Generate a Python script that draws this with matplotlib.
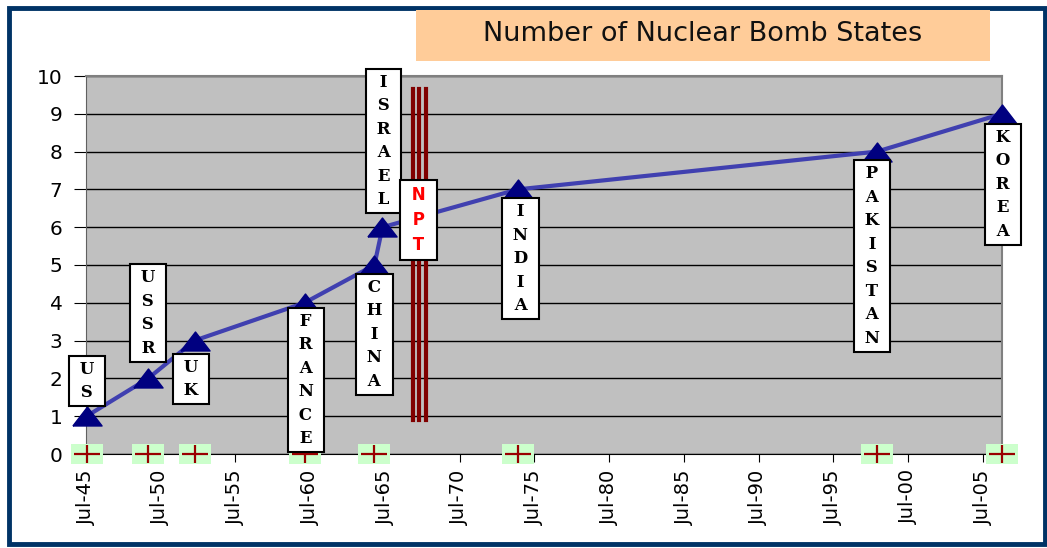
import matplotlib
matplotlib.use("Agg")
import matplotlib.pyplot as plt
import matplotlib.dates as mdates
from matplotlib.path import Path
from matplotlib.patches import Rectangle
from datetime import date

# data
states = ["US", "USSR", "UK", "FRANCE", "CHINA", "ISRAEL", "INDIA", "PAKISTAN", "KOREA"]
test_dates = [date(1945, 7, 16), date(1949, 8, 29), date(1952, 10, 3), date(1960, 2, 13),
              date(1964, 10, 16), date(1965, 5, 1), date(1974, 5, 18), date(1998, 5, 28),
              date(2006, 10, 9)]
count = [1, 2, 3, 4, 5, 6, 7, 8, 9]

# states that get a marker on the time axis (Israel has none)
axis_marks = [d for s, d in zip(states, test_dates) if s != "ISRAEL"]
npt_lines = [date(1967, 5, 15), date(1967, 10, 1), date(1968, 3, 20)]

# label boxes: (x date, y centre)
label_pos = {
    "US": (date(1945, 7, 16), 1.93),
    "USSR": (date(1949, 8, 29), 3.73),
    "UK": (date(1952, 7, 1), 1.98),
    "FRANCE": (date(1960, 3, 15), 1.96),
    "CHINA": (date(1964, 10, 16), 3.17),
    "ISRAEL": (date(1965, 6, 1), 8.28),
    "INDIA": (date(1974, 8, 1), 5.16),
    "PAKISTAN": (date(1998, 2, 1), 5.24),
    "KOREA": (date(2006, 11, 1), 7.14),
}
npt_pos = (date(1967, 10, 1), 6.19)

W, H = 1047, 548
fig = plt.figure(figsize=(W / 100, H / 100), dpi=100)
ax = fig.add_axes([86 / W, 1 - 454 / H, 916 / W, 378 / H])
ax.set_facecolor("#C0C0C0")

# frame around the whole picture
fig.patches.append(Rectangle((9 / W, 4 / H), 1036 / W, 536 / H,
                             transform=fig.transFigure, fill=False,
                             edgecolor="#003366", linewidth=3.5))
# title box
fig.patches.append(Rectangle((416 / W, 1 - 61 / H), 574 / W, 51 / H,
                             transform=fig.transFigure, facecolor="#FFCC99",
                             edgecolor="none"))
fig.text(703 / W, 1 - 34 / H, "Number of Nuclear Bomb States", ha="center", va="center",
         fontsize=19.5, color="#111111")

ax.set_ylim(0, 10)
ax.set_yticks(range(0, 11))
ax.set_xlim(date(1945, 7, 1), date(2006, 10, 9))
ax.grid(axis="y", color="black", linewidth=1)
ax.set_axisbelow(True)

ax.set_xticks([date(y, 7, 1) for y in range(1945, 2010, 5)])
ax.xaxis.set_major_formatter(mdates.DateFormatter("%b-%y"))
ax.tick_params(axis="x", rotation=90, labelsize=14, length=6, pad=5)
ax.tick_params(axis="y", labelsize=14.5, length=9, pad=8)

for side in ["top", "right"]:
    ax.spines[side].set_color("#808080")
    ax.spines[side].set_linewidth(1.5)
ax.spines["left"].set_color("#606060")
ax.spines["bottom"].set_color("black")

# NPT lines
for d in npt_lines:
    ax.plot([d, d], [0.9, 9.65], color="#800000", linewidth=3, zorder=3)

# main series
tri = [(-1, -0.65), (1, -0.65), (0, 0.65), (-1, -0.65)]
ax.plot(test_dates, count, color="#4040B0", linewidth=3, zorder=4)
ax.plot(test_dates, count, linestyle="none", marker=tri, markersize=21,
        color="#000080", zorder=5, clip_on=False)

# markers on time axis
box = [(-1, -0.6), (1, -0.6), (1, 0.6), (-1, 0.6), (-1, -0.6)]
plus = Path([(-1, 0), (1, 0), (0, -0.65), (0, 0.65)],
            [Path.MOVETO, Path.LINETO, Path.MOVETO, Path.LINETO])
zeros = [0] * len(axis_marks)
ax.plot(axis_marks, zeros, linestyle="none", marker=box, markersize=23,
        color="#CCFFCC", markeredgewidth=0, zorder=6, clip_on=False)
ax.plot(axis_marks, zeros, linestyle="none", marker=plus, markersize=19,
        markeredgecolor="#990000", markeredgewidth=1.6, zorder=7, clip_on=False)

# vertical name labels
for s in states:
    x, y = label_pos[s]
    ax.text(x, y, "\n".join(" " + c + " " for c in s), ha="center", va="center",
            family="DejaVu Serif", fontweight="bold", fontsize=12, linespacing=1.5,
            zorder=8, bbox=dict(boxstyle="square,pad=0.3", facecolor="white",
                                edgecolor="black", linewidth=1.5))
ax.text(npt_pos[0], npt_pos[1], "\n".join(" " + c + " " for c in "NPT"), ha="center",
        va="center", color="#FF0000", fontweight="bold", fontsize=12, linespacing=1.5,
        zorder=8, bbox=dict(boxstyle="square,pad=0.35", facecolor="white",
                            edgecolor="black", linewidth=1.5))

fig.savefig("out.png", dpi=100)
